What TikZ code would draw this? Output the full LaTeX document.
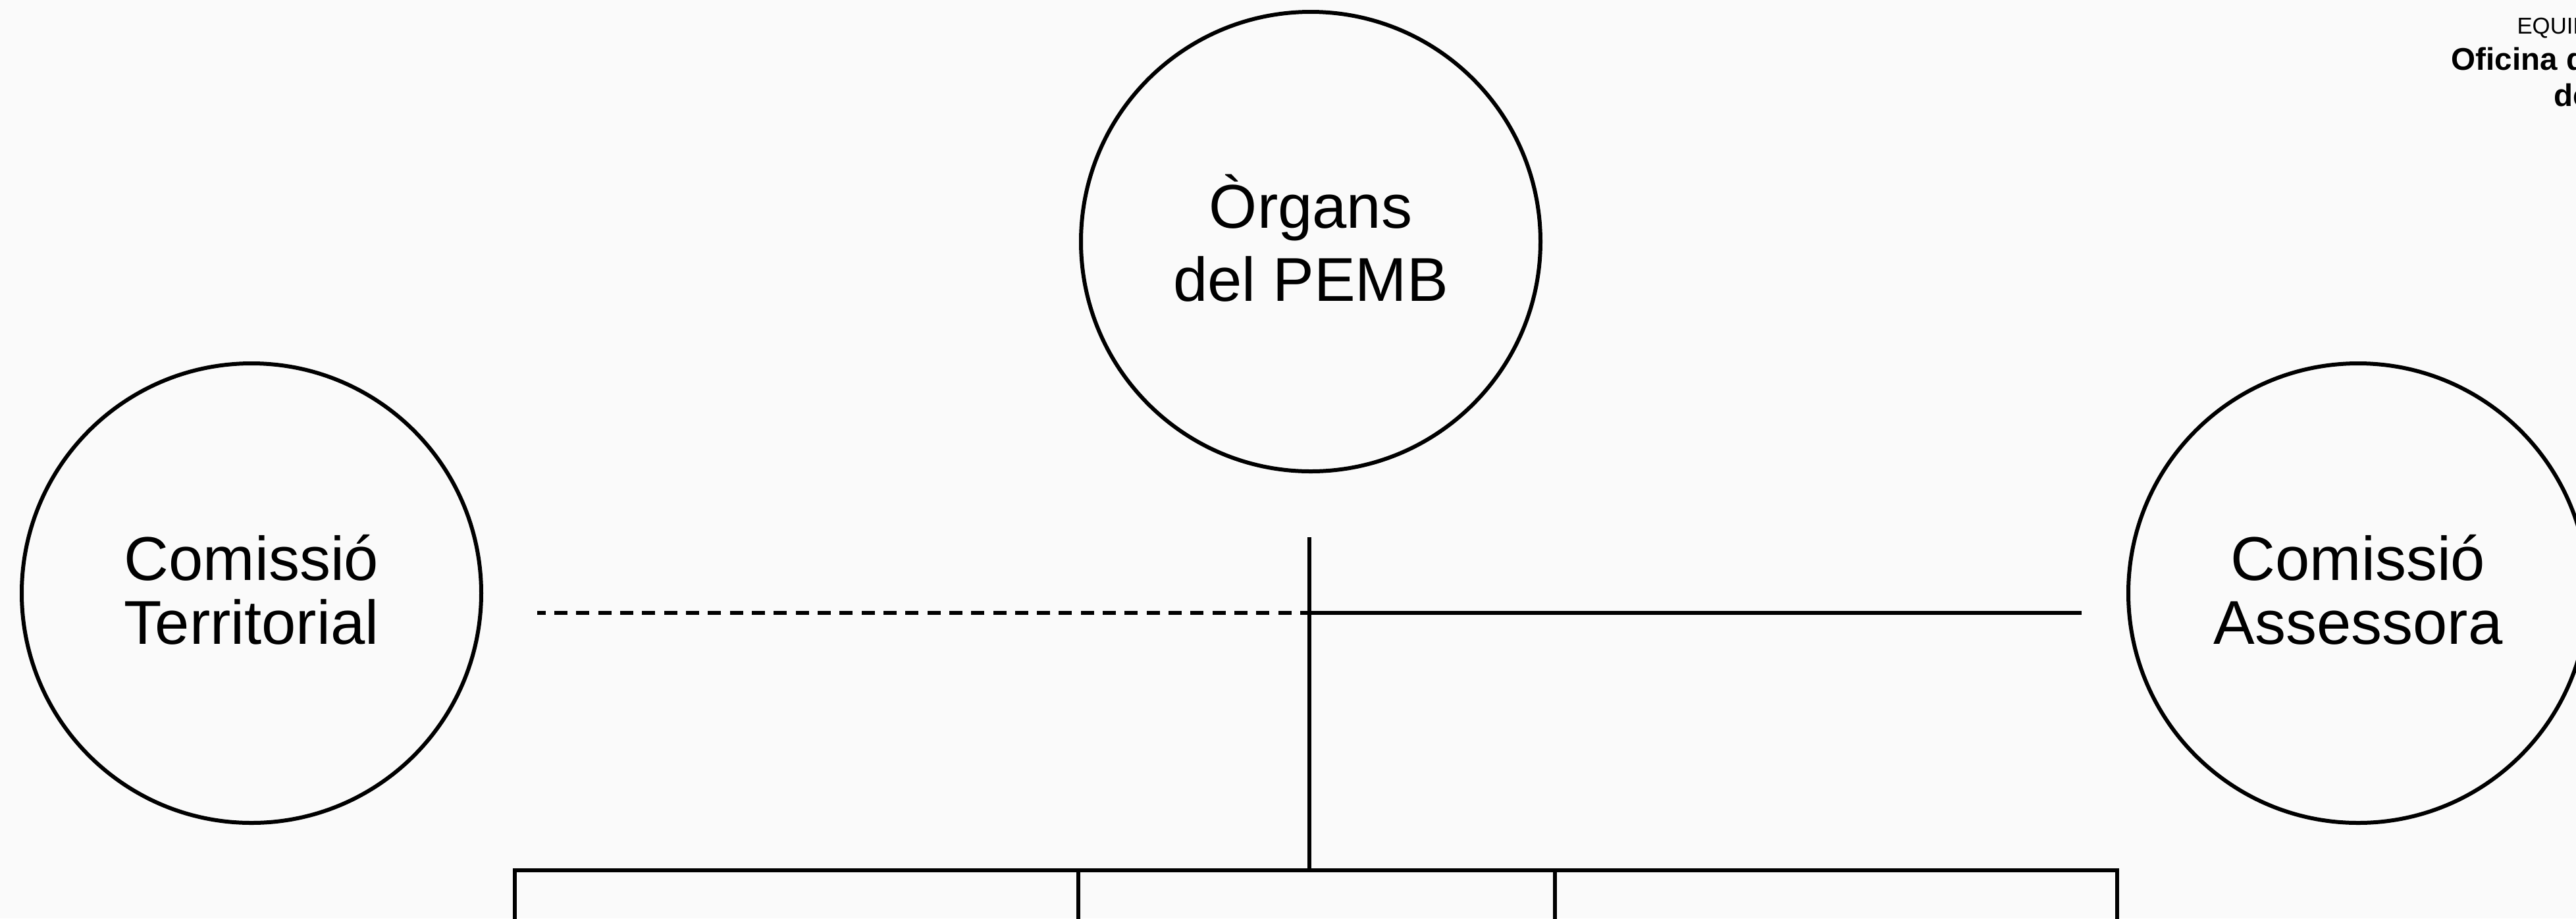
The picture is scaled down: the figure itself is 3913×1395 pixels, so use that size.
\documentclass[tikz,border=0pt]{standalone}
\usepackage{fontspec}
\setmainfont{Liberation Sans}
\definecolor{bg}{RGB}{250,250,250}
\tikzset{
  org/.style={circle, draw=black, line width=1.5pt, minimum size=174.5pt, inner sep=0pt},
  orglabel/.style={align=center, inner sep=0pt, yshift=1.3pt},
  orgfontA/.style={font=\fontsize{23.5}{27.9}\selectfont},
  orgfontB/.style={font=\fontsize{23.5}{24.1}\selectfont},
  link/.style={line width=1.6pt, draw=black},
  dashlink/.style={link, dash pattern=on 5pt off 3.33pt, dash phase=1.5pt},
  corner/.style={anchor=base west, inner sep=0pt},
}
\begin{document}
\begin{tikzpicture}[x=0.25pt,y=-0.25pt]
\fill[bg] (0,0) rectangle (3913,1395);
\useasboundingbox (0,0) rectangle (3913,1395);

% circles
\node[org] (organs) at (1991,367) {};
\node[org] (territorial) at (382,901) {};
\node[org] (assessora) at (3582,901) {};
\node[orglabel, orgfontA] (organs-t) at (organs.center) {Òrgans\\del PEMB};
\node[orglabel, orgfontB] (territorial-t) at (territorial.center) {Comissió\\Territorial};
\node[orglabel, orgfontB] (assessora-t) at (assessora.center) {Comissió\\Assessora};

% corner texts
\node[corner, font=\fontsize{8.7}{10}\selectfont] (equip) at (3822.7,51.7) {EQUIP};
\node[corner, font=\bfseries\fontsize{11.9}{14}\selectfont] (oficina) at (3722.7,106.7) {Oficina d};
\node[corner, font=\bfseries\fontsize{11.9}{14}\selectfont] (de) at (3879,161.7) {de};

% coordinates
\coordinate (dl) at (816,931);
\coordinate (j) at (1989,931);
\coordinate (sr) at (3162,931);
\coordinate (vt) at (1989,816);
\coordinate (hm) at (1989,1322);
\coordinate (hl) at (782,1322);
\coordinate (hr) at (3216,1322);
\coordinate (h2) at (1638,1322);
\coordinate (h3) at (2362,1322);
\coordinate (b1) at (782,1420);
\coordinate (b2) at (1638,1420);
\coordinate (b3) at (2362,1420);
\coordinate (b4) at (3216,1420);

% connectors
\draw[dashlink] (j) -- (dl);
\draw[link] (j) -- (sr);
\draw[link] (vt) -- (hm);
\draw[link] (b1) -- (hl) -- (hr) -- (b4);
\draw[link] (h2) -- (b2);
\draw[link] (h3) -- (b3);
\end{tikzpicture}
\end{document}
